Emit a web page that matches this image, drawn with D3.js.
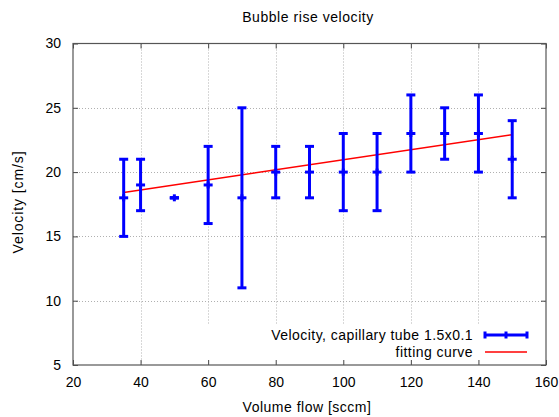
<!DOCTYPE html>
<html><head><meta charset="utf-8">
<script src="https://cdn.jsdelivr.net/npm/d3@7"></script>
<style>body{margin:0;background:#fff}svg{display:block;font-family:"Liberation Sans",Arial,sans-serif}</style>
</head><body><svg id="c" width="559" height="417"></svg>
<script>
const flow = [35, 40, 50, 60, 70, 80, 90, 100, 110, 120, 130, 140, 150];
const velocity = [18, 19, 18, 19, 18, 20, 20, 20, 20, 23, 23, 23, 21];
const velLow = [15, 17, 18, 16, 11, 18, 18, 17, 17, 20, 21, 20, 18];
const velHigh = [21, 21, 18, 22, 25, 22, 22, 23, 23, 26, 25, 26, 24];
const fitX = [35, 150];
const fitY = [18.42, 22.91];
const xTicks = [20, 40, 60, 80, 100, 120, 140, 160];
const yTicks = [5, 10, 15, 20, 25, 30];
const legendLabels = ["Velocity, capillary tube 1.5x0.1", "fitting curve"];

const svg = d3.select("#c");
const L = 73, R = 546, T = 43.5, B = 365;
const x = d3.scaleLinear().domain([20, 160]).range([L, R]);
const y = d3.scaleLinear().domain([5, 30]).range([B, T]);
const blue = "#0000ff", red = "#ff0000";

// grid
const grid = svg.append("g").attr("stroke", "#b0b0b0").attr("stroke-width", 1).attr("stroke-dasharray", "1,2");
xTicks.slice(1, -1).forEach(v => grid.append("line").attr("x1", Math.round(x(v)) + 0.5).attr("x2", Math.round(x(v)) + 0.5).attr("y1", T).attr("y2", B));
yTicks.slice(1, -1).forEach(v => grid.append("line").attr("y1", Math.round(y(v)) + 0.5).attr("y2", Math.round(y(v)) + 0.5).attr("x1", L).attr("x2", R));

// legend background
svg.append("rect").attr("x", 190).attr("y", 325).attr("width", R - 190).attr("height", B - 325).attr("fill", "#fff");

// axes with inward ticks, mirrored
const axB = d3.axisBottom(x).tickValues(xTicks).tickSize(-5).tickPadding(12);
const axT = d3.axisTop(x).tickValues(xTicks).tickSize(-5).tickFormat("");
const axL = d3.axisLeft(y).tickValues(yTicks).tickSize(-5).tickPadding(12);
const axR = d3.axisRight(y).tickValues(yTicks).tickSize(-5).tickFormat("");
function style(g) {
  g.select(".domain").remove();
  g.selectAll(".tick line").attr("stroke", "#444");
  g.selectAll(".tick text").attr("fill", "#000").style("font-size", "14px").style("font-family", "Liberation Sans, Arial, sans-serif");
}
svg.append("g").attr("transform", `translate(0,${B})`).call(axB).call(style);
svg.append("g").attr("transform", `translate(0,${T})`).call(axT).call(style);
svg.append("g").attr("transform", `translate(${L},0)`).call(axL).call(style);
svg.append("g").attr("transform", `translate(${R},0)`).call(axR).call(style);

// frame
svg.append("rect").attr("x", L).attr("y", T).attr("width", R - L).attr("height", B - T)
  .attr("fill", "none").attr("stroke", "#555").attr("stroke-width", 1.2);

// fitting curve
svg.append("path").datum(fitX.map((v, i) => [v, fitY[i]]))
  .attr("d", d3.line().x(d => x(d[0])).y(d => y(d[1])))
  .attr("stroke", red).attr("stroke-width", 1.5).attr("fill", "none");

// error bars
const cap = 4.5;
const eb = svg.append("g").attr("stroke", blue).attr("stroke-width", 3);
flow.forEach((f, i) => {
  const cx = x(f);
  eb.append("line").attr("x1", cx).attr("x2", cx).attr("y1", y(velLow[i])).attr("y2", y(velHigh[i]));
  eb.append("line").attr("x1", cx - cap).attr("x2", cx + cap).attr("y1", y(velLow[i])).attr("y2", y(velLow[i]));
  eb.append("line").attr("x1", cx - cap).attr("x2", cx + cap).attr("y1", y(velHigh[i])).attr("y2", y(velHigh[i]));
  eb.append("line").attr("x1", cx - cap).attr("x2", cx + cap).attr("y1", y(velocity[i])).attr("y2", y(velocity[i]));
  eb.append("line").attr("x1", cx).attr("x2", cx).attr("y1", y(velocity[i]) - 3.5).attr("y2", y(velocity[i]) + 3.5);
});

// legend
const lg = svg.append("g").style("font-size", "14px").style("letter-spacing", "0.45px");
const ly = [335, 352];
const sx1 = 485, sx2 = 527;
lg.selectAll("text").data(legendLabels).join("text")
  .attr("x", 473).attr("y", (d, i) => ly[i]).attr("dy", "0.35em").attr("text-anchor", "end").attr("fill", "#000").text(d => d);
const lb = lg.append("g").attr("stroke", blue).attr("stroke-width", 3);
lb.append("line").attr("x1", sx1).attr("x2", sx2).attr("y1", ly[0]).attr("y2", ly[0]);
[sx1, (sx1 + sx2) / 2, sx2].forEach(v => lb.append("line").attr("x1", v).attr("x2", v).attr("y1", ly[0] - 3.5).attr("y2", ly[0] + 3.5));
lg.append("line").attr("x1", sx1).attr("x2", sx2).attr("y1", ly[1]).attr("y2", ly[1]).attr("stroke", red).attr("stroke-width", 1.5);

// titles
svg.append("text").attr("x", 308).attr("y", 17).attr("dy", "0.35em").attr("text-anchor", "middle").style("font-size", "14px").style("letter-spacing", "0.55px").text("Bubble rise velocity");
svg.append("text").attr("x", 307).attr("y", 407).attr("dy", "0.35em").attr("text-anchor", "middle").style("font-size", "14px").style("letter-spacing", "0.5px").text("Volume flow [sccm]");
svg.append("text").attr("transform", "translate(18,202) rotate(-90)").attr("dy", "0.35em").attr("text-anchor", "middle").style("font-size", "14px").style("letter-spacing", "0.9px").text("Velocity [cm/s]");
</script></body></html>
